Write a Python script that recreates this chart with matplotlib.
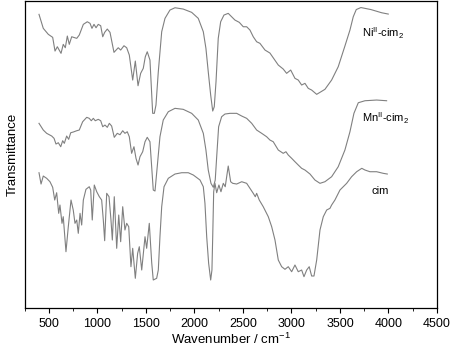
import matplotlib

matplotlib.use("Agg")
import matplotlib.pyplot as plt  # noqa: E402
from matplotlib.ticker import MultipleLocator  # noqa: E402

plt.rcParams["font.family"] = ["Liberation Sans", "DejaVu Sans"]

# wavenumber (cm-1) / transmittance (arbitrary, stacked)
ni_wn = [397, 441, 493, 538, 562, 586, 624, 647, 668, 689, 709, 734, 786, 812, 854,
         895, 923, 943, 964, 985, 1008, 1033, 1054, 1074, 1101, 1129, 1170, 1214,
         1239, 1273, 1301, 1328, 1363, 1390, 1418, 1445, 1472, 1493, 1513, 1541,
         1569, 1586, 1603, 1627, 1662, 1696, 1747, 1799, 1884, 1971, 2039, 2091,
         2118, 2142, 2167, 2188, 2204, 2222, 2245, 2270, 2304, 2348, 2383, 2417,
         2462, 2503, 2538, 2572, 2606, 2641, 2675, 2727, 2778, 2864, 2915, 2950,
         2992, 3036, 3070, 3105, 3139, 3173, 3208, 3260, 3294, 3345, 3414, 3482,
         3551, 3603, 3637, 3668, 3716, 3819, 3930, 3998]
ni_t = [293.7, 279.7, 273.7, 270.7, 257, 261.3, 254.7, 263.7, 260.3, 272, 263.7,
        271.3, 269.7, 273, 283.7, 286.3, 284.7, 279.7, 283.7, 280.3, 283.7, 282.3,
        271.3, 275.7, 279, 275.7, 255.7, 260.3, 258, 262.3, 260.3, 253, 228, 247,
        222.3, 234.7, 239.7, 251.3, 256.3, 248, 194.7, 194.7, 203, 236.3, 276.3,
        289.7, 298, 300.3, 299, 295.7, 289.7, 276.3, 259.7, 236.3, 213, 197, 201.3,
        226.3, 269.7, 286.3, 293, 294.7, 291.3, 288, 285.7, 281.3, 281.3, 278,
        271.3, 266.3, 264.7, 258, 255, 243, 239, 234.7, 238, 229.7, 228, 223,
        224.7, 219.7, 218, 213.7, 215.7, 218.7, 228, 241.3, 262, 278, 291.3, 298.5,
        300.5, 298.5, 295.3, 294]

mn_wn = [397, 441, 476, 528, 552, 572, 596, 621, 641, 658, 682, 703, 724, 750, 786,
         812, 847, 889, 915, 936, 957, 977, 1008, 1033, 1054, 1077, 1101, 1122,
         1146, 1173, 1204, 1232, 1260, 1283, 1307, 1328, 1352, 1376, 1397, 1418,
         1438, 1466, 1490, 1513, 1541, 1575, 1593, 1616, 1644, 1678, 1730, 1799,
         1884, 1971, 2039, 2091, 2118, 2142, 2170, 2194, 2214, 2229, 2249, 2280,
         2314, 2366, 2435, 2487, 2538, 2590, 2641, 2693, 2744, 2778, 2812, 2864,
         2915, 2943, 2967, 3002, 3036, 3070, 3105, 3139, 3191, 3242, 3294, 3345,
         3414, 3482, 3551, 3603, 3644, 3689, 3758, 3878, 3981]
mn_t = [184.7, 178, 174.7, 172, 169.7, 164, 165.3, 161.3, 167.3, 164.7, 172, 168.7,
        175.3, 176, 177.3, 178, 186.3, 190.7, 189.7, 187.3, 189.7, 187.3, 188.7,
        187.3, 181.3, 183, 180.7, 184.7, 182, 170.7, 174.7, 173.3, 177.3, 174.7,
        176.3, 171.3, 154.7, 161.3, 149.7, 143, 151.3, 156.3, 166.3, 170.7, 166.3,
        118, 117, 141.3, 171.3, 188, 196.3, 199.7, 198.7, 194.7, 188, 174.7, 158,
        138, 124.7, 120.7, 128, 151.3, 181.3, 191.3, 194, 194.7, 194.7, 192, 189.7,
        184.7, 178, 174.7, 171.3, 168, 166.3, 158, 154.7, 156.3, 153, 149.7, 146.3,
        143, 139.7, 138, 134, 128, 124.7, 126.3, 131.3, 141.3, 158, 176.3, 194.7,
        205.3, 207.3, 208, 207.3]

cim_wn = [397, 418, 441, 476, 510, 538, 559, 579, 600, 613, 634, 647, 675, 699, 727,
          750, 768, 786, 802, 820, 837, 854, 881, 915, 930, 946, 967, 992, 1019,
          1043, 1060, 1074, 1095, 1119, 1139, 1153, 1173, 1198, 1219, 1239, 1260,
          1283, 1301, 1322, 1345, 1363, 1390, 1414, 1431, 1456, 1490, 1507, 1534,
          1559, 1575, 1610, 1627, 1644, 1662, 1686, 1730, 1799, 1868, 1936, 1988,
          2057, 2091, 2108, 2126, 2146, 2167, 2180, 2188, 2198, 2211, 2229, 2252,
          2273, 2297, 2317, 2348, 2373, 2394, 2435, 2487, 2538, 2572, 2606, 2627,
          2641, 2668, 2709, 2761, 2796, 2830, 2864, 2899, 2933, 2967, 3002, 3036,
          3070, 3105, 3129, 3157, 3183, 3208, 3232, 3260, 3294, 3328, 3363, 3397,
          3414, 3448, 3500, 3569, 3620, 3672, 3725, 3758, 3809, 3878, 3946, 3988]
cim_t = [135.3, 124, 132, 129.7, 126.3, 120.7, 108, 115.3, 94.7, 103, 84.7, 91.3,
         56.3, 81.3, 108, 98, 84.7, 88, 74.7, 94.7, 83, 108, 118.7, 121.3, 118, 88,
         123, 116.3, 111.3, 108, 88, 67.3, 114.7, 111.3, 88, 68, 111.3, 59.7, 93,
         66.3, 101.3, 78, 84.7, 81.3, 41.3, 59.7, 29.7, 54.7, 61.3, 38, 71.3, 59.7,
         84.7, 45.3, 28, 29.7, 38, 71.3, 101.3, 121.3, 129.7, 134, 135.3, 135.3, 133,
         128, 121.3, 104.7, 71.3, 44.7, 28, 38, 71.3, 116.3, 124.7, 115.3, 123,
         116.3, 124.7, 121.3, 142, 126.3, 124.7, 124, 126.3, 124.7, 119.7, 114.7,
         111.3, 114.7, 108, 101.3, 91.3, 81.3, 68, 48, 41.3, 38.7, 41.3, 36.3, 43,
         36.3, 38, 31.3, 38, 41.3, 32, 32, 48, 78, 91.3, 98, 99.7, 103, 108, 118,
         124.7, 131.3, 136.3, 139.7, 138, 136.3, 136.3, 134.7, 134]

labels = ["Ni$^{\\mathregular{II}}$-cim$_{\\mathregular{2}}$",
          "Mn$^{\\mathregular{II}}$-cim$_{\\mathregular{2}}$", "cim"]
label_pos = [(3723, 275), (3723, 189.7), (3827, 117)]

fig = plt.figure(figsize=(4.5, 3.52), dpi=100)
ax = fig.add_axes([0.055, 0.125, 0.916, 0.872])

for wn, t in [(ni_wn, ni_t), (mn_wn, mn_t), (cim_wn, cim_t)]:
    ax.plot(wn, t, color="#808080", lw=0.8)
for text, (x, y) in zip(labels, label_pos):
    ax.text(x, y, text, fontsize=8, va="center", ha="left")

ax.set_xlim(250, 4500)
ax.set_ylim(0, 307)
ax.xaxis.set_major_locator(MultipleLocator(500))
ax.xaxis.set_minor_locator(MultipleLocator(250))
ax.tick_params(axis="x", which="major", direction="out", length=3.5, labelsize=9, pad=4)
ax.tick_params(axis="x", which="minor", direction="out", length=2)
ax.set_yticks([])
for s in ax.spines.values():
    s.set_linewidth(0.9)
ax.set_xlabel("Wavenumber / cm$^{\\mathregular{-1}}$", fontsize=9.5, labelpad=1)
ax.set_ylabel("Transmittance", fontsize=9.5, labelpad=4)

fig.savefig("out.png", dpi=100)
